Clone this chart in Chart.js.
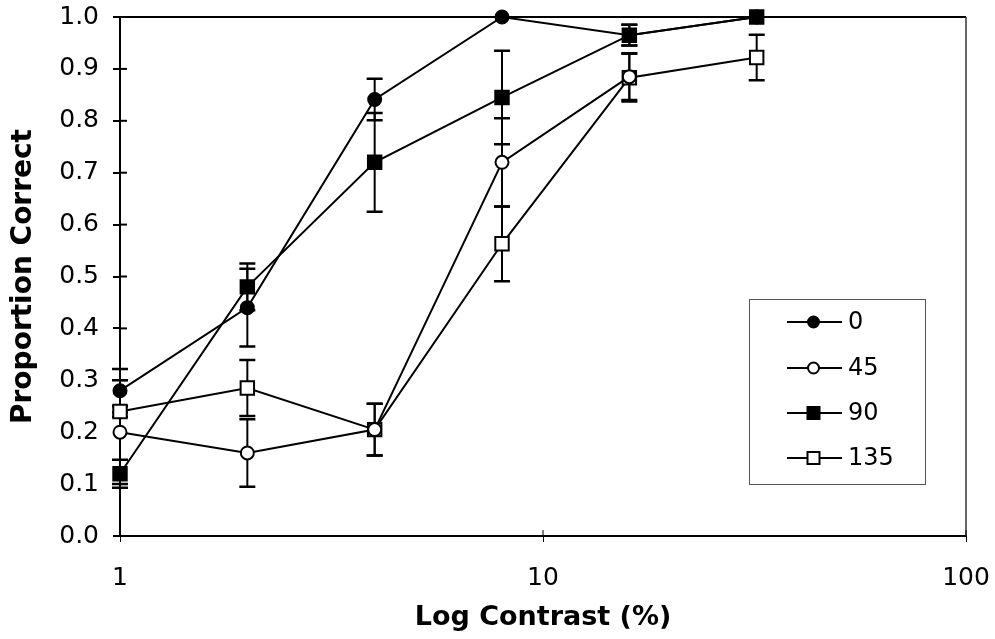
<!DOCTYPE html>
<html>
<head>
<meta charset="utf-8">
<script src="https://cdn.jsdelivr.net/npm/chart.js@4.4.0/dist/chart.umd.min.js"></script>
<style>
html,body{margin:0;padding:0;background:#fff;}
#wrap{width:995px;height:639px;position:relative;}
</style>
</head>
<body>
<div id="wrap"><canvas id="c" width="995" height="639"></canvas></div>
<script>
// ---- data ----
const contrasts = [1, 2, 4, 8, 16, 32];
const seriesNames = ['0', '45', '90', '135'];
const s0   = [0.28, 0.44, 0.841, 1.0, 0.965, 1.0];
const s45  = [0.20, 0.16, 0.205, 0.72, 0.885, null];
const s90  = [0.12, 0.48, 0.72, 0.845, 0.965, 1.0];
const s135 = [0.24, 0.285, 0.205, 0.563, 0.883, 0.922];
const e0   = [0.042, 0.075, 0.04, 0, 0.02, 0];
const e45  = [0.10, 0.065, 0.05, 0.085, 0.045, null];
const e90  = [0.027, 0.045, 0.095, 0.09, 0.02, 0];
const e135 = [0.01, 0.054, 0.05, 0.072, 0.046, 0.044];
const xTickValues = [1, 10, 100];
const yTickStep = 0.1;

const values = [s0, s45, s90, s135];
const errors = [e0, e45, e90, e135];
const styles = [
  {shape: 'circle', fill: '#000', radius: 6.5},
  {shape: 'circle', fill: '#fff', radius: 6.5},
  {shape: 'rect', fill: '#000', radius: 9.5},
  {shape: 'rect', fill: '#fff', radius: 9.5}
];

const datasets = values.map((vals, i) => ({
  label: seriesNames[i],
  data: contrasts.map((x, j) => vals[j] == null ? null : {x: x, y: vals[j]}).filter(p => p),
  errs: errors[i].filter(e => e != null),
  borderColor: '#000',
  borderWidth: 2,
  backgroundColor: styles[i].fill,
  pointStyle: styles[i].shape,
  pointRadius: styles[i].radius,
  pointHoverRadius: styles[i].radius,
  pointBackgroundColor: styles[i].fill,
  pointBorderColor: '#000',
  pointBorderWidth: 2,
  tension: 0,
  fill: false,
  clip: 14
}));

const TXT = '#000';

function zeroPad(s) {
  s.paddingLeft = 0; s.paddingRight = 0; s.paddingTop = 0; s.paddingBottom = 0;
}

const extrasPlugin = {
  id: 'extras',
  beforeDatasetsDraw(chart) {
    const ctx = chart.ctx, xs = chart.scales.x, ys = chart.scales.y, a = chart.chartArea;
    ctx.save();
    // plot frame (top and right)
    ctx.strokeStyle = '#000';
    ctx.lineWidth = 2;
    ctx.beginPath();
    ctx.moveTo(a.left, a.top); ctx.lineTo(a.right, a.top);
    ctx.stroke();
    ctx.strokeStyle = '#333';
    ctx.lineWidth = 1.5;
    ctx.beginPath();
    ctx.moveTo(a.right, a.top); ctx.lineTo(a.right, a.bottom);
    ctx.stroke();
    // inward tick marks
    ctx.strokeStyle = '#000';
    ctx.lineWidth = 2;
    ys.ticks.forEach(t => {
      const y = ys.getPixelForValue(t.value);
      ctx.beginPath(); ctx.moveTo(a.left, y); ctx.lineTo(a.left + 7, y); ctx.stroke();
    });
    ctx.lineWidth = 1;
    xs.ticks.forEach(t => {
      const x = xs.getPixelForValue(t.value);
      ctx.beginPath(); ctx.moveTo(x, a.bottom); ctx.lineTo(x, a.bottom - 6); ctx.stroke();
    });
    // error bars
    ctx.strokeStyle = '#000';
    chart.data.datasets.forEach(ds => {
      ds.data.forEach((p, j) => {
        const e = ds.errs[j];
        if (!e) return;
        const x = xs.getPixelForValue(p.x);
        const yt = ys.getPixelForValue(p.y + e);
        const yb = ys.getPixelForValue(p.y - e);
        ctx.lineWidth = 2;
        ctx.beginPath(); ctx.moveTo(x, yt); ctx.lineTo(x, yb); ctx.stroke();
        ctx.lineWidth = 2.5;
        ctx.beginPath();
        ctx.moveTo(x - 8, yt); ctx.lineTo(x + 8, yt);
        ctx.moveTo(x - 8, yb); ctx.lineTo(x + 8, yb);
        ctx.stroke();
      });
    });
    ctx.restore();
  },
  afterDraw(chart) {
    const ctx = chart.ctx;
    ctx.save();
    // legend box
    const bx = 749.5, by = 299.5, bw = 176, bh = 185;
    ctx.fillStyle = '#fff';
    ctx.fillRect(bx, by, bw, bh);
    ctx.strokeStyle = '#555';
    ctx.lineWidth = 1;
    ctx.strokeRect(bx, by, bw, bh);
    const rowY = [322, 368, 413, 458];
    chart.data.datasets.forEach((ds, i) => {
      const y = rowY[i];
      ctx.strokeStyle = '#000';
      ctx.lineWidth = 2;
      ctx.beginPath(); ctx.moveTo(787, y); ctx.lineTo(842, y); ctx.stroke();
      ctx.fillStyle = ds.pointBackgroundColor;
      ctx.beginPath();
      if (ds.pointStyle === 'circle') {
        ctx.arc(813.5, y, 5.5, 0, Math.PI * 2);
      } else {
        ctx.rect(813.5 - 6, y - 6, 12, 12);
      }
      ctx.fill();
      ctx.stroke();
      ctx.fillStyle = TXT;
      ctx.font = '24px "DejaVu Sans"';
      ctx.textBaseline = 'middle';
      ctx.textAlign = 'left';
      ctx.fillText(ds.label, 848, y + 1);
    });
    ctx.restore();
  }
};

new Chart(document.getElementById('c'), {
  type: 'line',
  data: {datasets: datasets},
  options: {
    responsive: false,
    animation: false,
    devicePixelRatio: 1,
    layout: {padding: {top: 17, right: 29, bottom: 0, left: 0}},
    plugins: {legend: {display: false}, tooltip: {enabled: false}},
    scales: {
      x: {
        type: 'logarithmic',
        min: 1, max: 100,
        afterBuildTicks: s => { s.ticks = xTickValues.map(v => ({value: v})); },
        afterFit: s => { s.height = 103; zeroPad(s); },
        ticks: {
          autoSkip: false, maxRotation: 0, padding: 21,
          color: TXT, font: {family: 'DejaVu Sans', size: 25},
          callback: v => String(v)
        },
        grid: {drawOnChartArea: false, drawTicks: true, tickLength: 6, color: '#000', lineWidth: 1},
        border: {display: true, color: '#000', width: 2},
        title: {display: true, text: 'Log Contrast (%)', color: TXT,
                font: {family: 'DejaVu Sans', size: 27, weight: 'bold'}, padding: {top: 0, bottom: 5}}
      },
      y: {
        type: 'linear',
        min: 0, max: 1,
        afterFit: s => { s.width = 120; zeroPad(s); },
        ticks: {
          stepSize: yTickStep, padding: 14,
          color: TXT, font: {family: 'DejaVu Sans', size: 25},
          callback: v => v.toFixed(1)
        },
        grid: {drawOnChartArea: false, drawTicks: true, tickLength: 7, color: '#000', lineWidth: 2},
        border: {display: true, color: '#000', width: 2},
        title: {display: true, text: 'Proportion Correct', color: TXT,
                font: {family: 'DejaVu Sans', size: 28, weight: 'bold'}, padding: {top: 7, bottom: 0}}
      }
    }
  },
  plugins: [extrasPlugin]
});
</script>
</body>
</html>
